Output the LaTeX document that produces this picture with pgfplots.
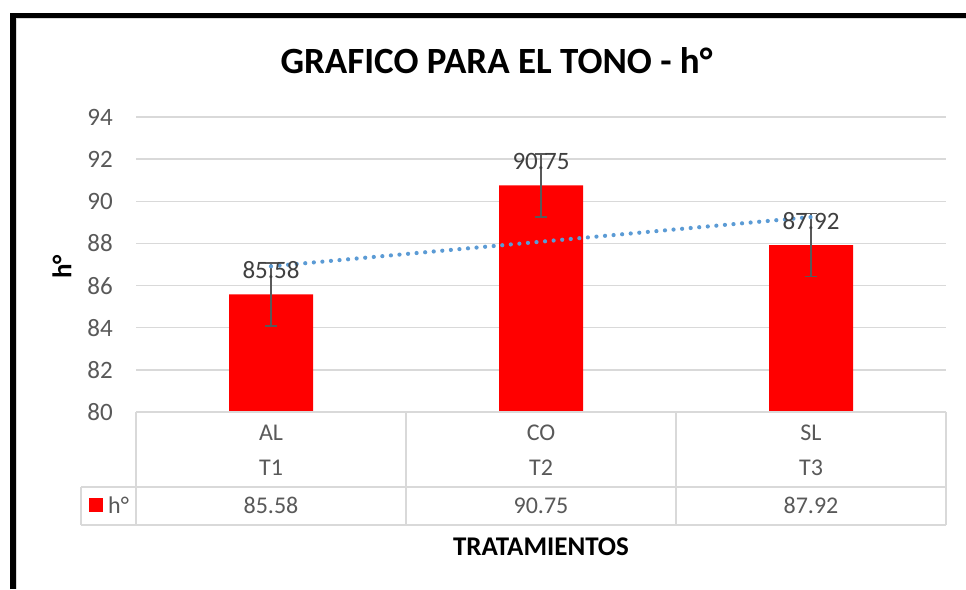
\documentclass[border=0pt]{standalone}
\usepackage{fontspec}
\setmainfont{Carlito}
\usepackage{pgfplots}
\pgfplotsset{compat=1.18}
\usepackage{pgfplotstable}
\definecolor{barred}{HTML}{FF0000}
\definecolor{gridgray}{HTML}{D9D9D9}
\definecolor{tickgray}{HTML}{595959}
\definecolor{labgray}{HTML}{404040}
\definecolor{trendblue}{HTML}{5B9BD5}

\pgfplotstableread{
x y e lab
0 85.58 1.5 85.58
1 90.75 1.5 90.75
2 87.92 1.5 87.92
}\datatable

\begin{document}
\begin{tikzpicture}[x=1pt,y=1pt]
\path[use as bounding box] (0,0) rectangle (966,589);
\fill[white] (0,0) rectangle (966,589);
\begin{axis}[
  at={(136pt,177pt)}, anchor=south west,
  width=810pt, height=295pt, scale only axis,
  clip=false,
  xmin=-0.5, xmax=2.5, ymin=80, ymax=94,
  ytick={80,82,...,94},
  xtick={0,1,2}, xticklabels={AL,CO,SL},
  extra x ticks={0,1,2}, extra x tick labels={T1,T2,T3},
  extra x tick style={xticklabel style={yshift=-35pt}},
  axis line style={draw=none},
  major tick length=0pt,
  ymajorgrids, grid style={color=gridgray, line width=1.3pt},
  /pgf/number format/assume math mode=true,
  tick label style={font=\fontsize{24}{28}\selectfont, text=tickgray},
  yticklabel style={anchor=east, inner sep=0pt, xshift=-23pt, font=\fontsize{25}{28}\selectfont},
  xticklabel style={anchor=base, inner sep=0pt, yshift=-29pt},
]
\addplot[ybar, bar width=84pt, fill=barred, draw=none,
  point meta=explicit symbolic,
  nodes near coords,
  nodes near coords style={anchor=base, inner sep=0pt, yshift=16pt, text=labgray, font=\fontsize{25}{28}\selectfont},
  error bars/.cd, y dir=both, y explicit,
  error bar style={draw=tickgray, line width=1.5pt},
  error mark=-,
  error mark options={rotate=90, draw=tickgray, line width=1.5pt, mark size=6pt}]
  table[x=x, y=y, y error=e, meta=lab] {\datatable};
\addplot[trendblue, line width=4.2pt, line cap=round, dash pattern=on 0pt off 8.6pt]
  coordinates {(0,86.913) (2,89.253)};
\end{axis}
% chart border
\draw[gridgray, line width=1pt] (16.5,0) -- (16.5,570) -- (966,570);
\draw[black, line width=5.5pt, line join=miter] (12.75,0) -- (12.75,573.6) -- (966,573.6);
% data table
\begin{scope}[gridgray, line width=1.3pt]
\draw (136,177) -- (946,177);
\draw (136,177) -- (136,64);
\draw (406,177) -- (406,64);
\draw (676,177) -- (676,64);
\draw (946,177) -- (946,64);
\draw (81,102) -- (946,102);
\draw (81,64) -- (946,64);
\draw (81,102) -- (81,64);
\end{scope}
\fill[barred] (89,77) rectangle (103,91);
\begin{scope}[every node/.style={font=\fontsize{24}{28}\selectfont, text=tickgray, inner sep=0pt}]
\node[anchor=base west] at (108,75) {h°};
\node[anchor=base] at (271,75) {85.58};
\node[anchor=base] at (541,75) {90.75};
\node[anchor=base] at (811,75) {87.92};
\end{scope}
% titles
\node[anchor=base, inner sep=0pt, font=\fontsize{37}{40}\selectfont\bfseries] at (496.5,515) {GRAFICO PARA EL TONO - h°};
\node[anchor=base, inner sep=0pt, font=\fontsize{27}{30}\selectfont\bfseries] at (541,34) {TRATAMIENTOS};
\node[rotate=90, inner sep=0pt, font=\fontsize{27}{30}\selectfont\bfseries] at (62,322) {h°};
\end{tikzpicture}
\end{document}
